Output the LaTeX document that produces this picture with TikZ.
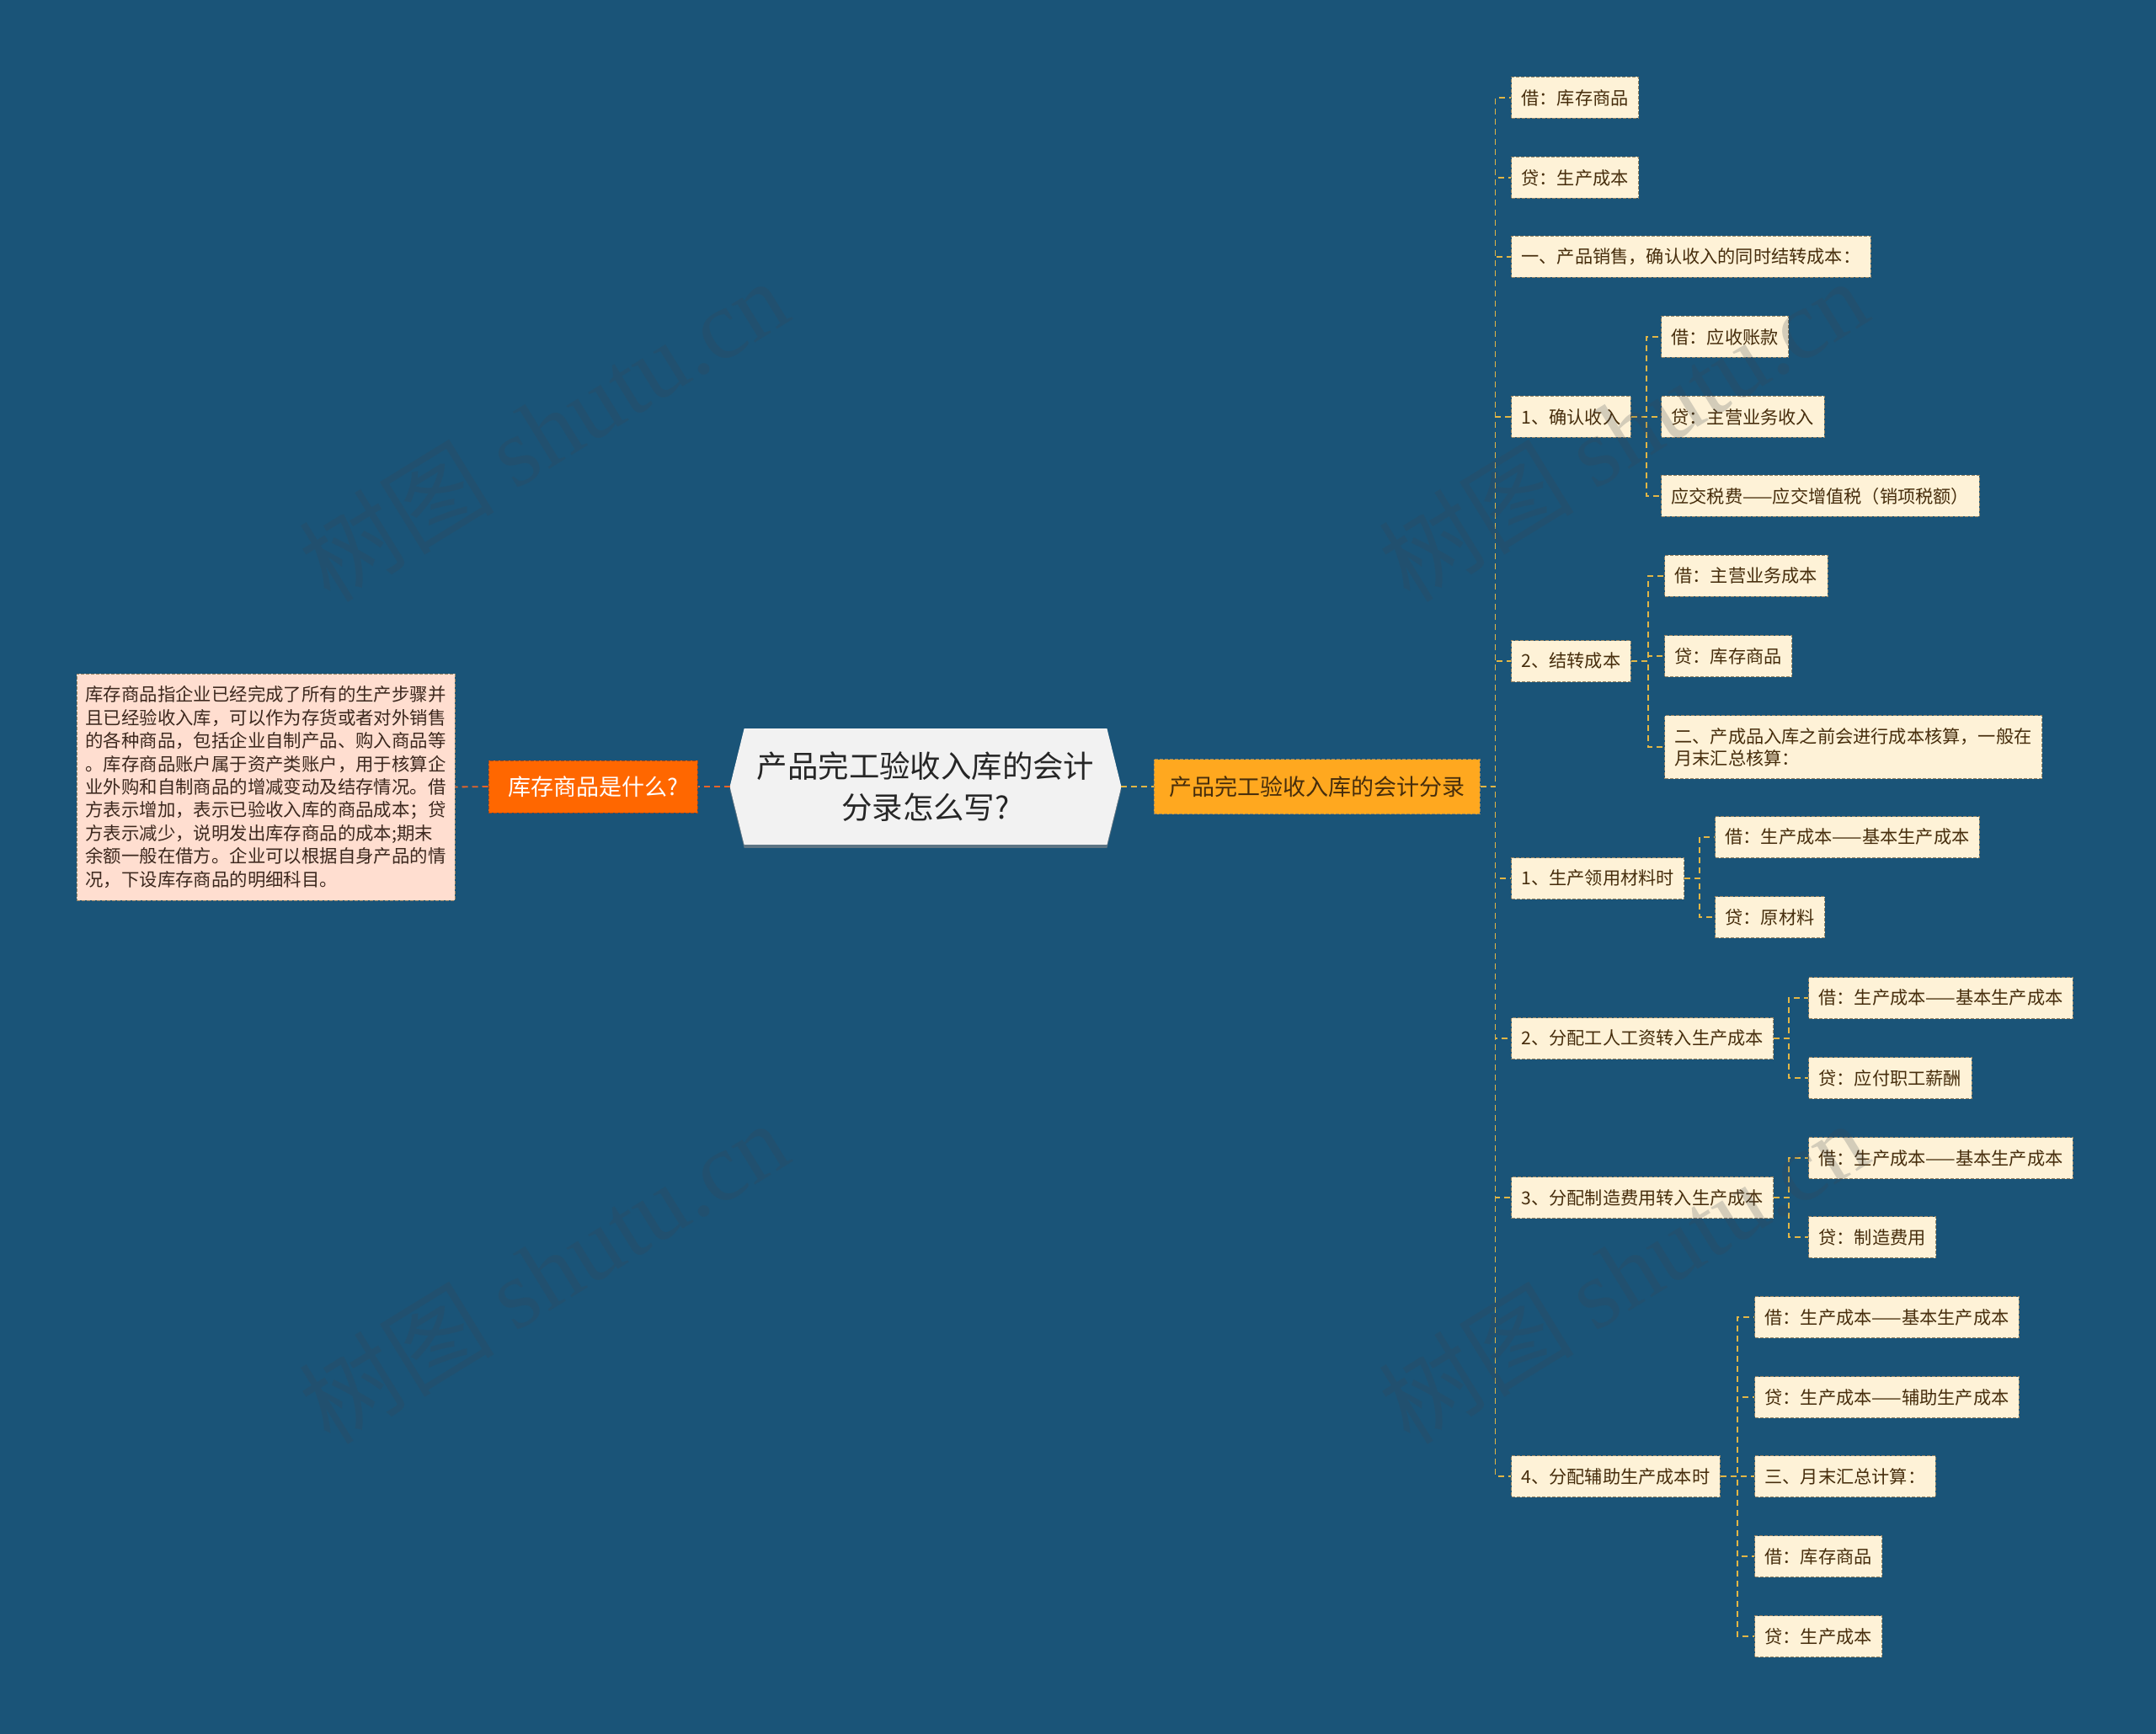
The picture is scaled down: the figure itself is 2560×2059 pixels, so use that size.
\documentclass[tikz,border=0pt]{standalone}
\usepackage{fontspec}
\setmainfont{Noto Sans CJK SC}
\newfontfamily\wmlatin{Liberation Serif}
\usetikzlibrary{backgrounds}
\definecolor{bgcol}{RGB}{26,84,120}
\definecolor{leaffill}{RGB}{254,242,215}
\definecolor{leafbd}{RGB}{150,132,100}
\definecolor{leaftext}{RGB}{70,45,12}
\definecolor{conncol}{RGB}{226,182,70}
\definecolor{lconncol}{RGB}{232,100,40}
\definecolor{redfill}{RGB}{255,103,0}
\definecolor{yelfill}{RGB}{255,168,31}
\definecolor{parafill}{RGB}{255,222,208}
\definecolor{paratext}{RGB}{60,40,30}
\definecolor{cenfill}{RGB}{242,242,242}
\definecolor{wmcol}{RGB}{60,70,80}
\tikzset{
  leaf/.style={draw=leafbd, dash pattern=on 2pt off 1pt, line width=0.5pt, fill=leaffill,
    text=leaftext, font=\fontsize{10.6}{13}\selectfont, inner xsep=6pt, inner ysep=0pt,
    minimum height=24.5pt, anchor=west, align=left},
  conn/.style={draw=conncol, dash pattern=on 3.5pt off 2.5pt, line width=0.9pt},
  lconn/.style={draw=lconncol, dash pattern=on 3.5pt off 2.5pt, line width=0.9pt},
  wm/.style={rotate=31.6, text=wmcol, opacity=0.22, font=\fontsize{58}{60}\selectfont}
}
\begin{document}
\begin{tikzpicture}[x=0.5pt,y=-0.5pt]
\useasboundingbox (0,0) rectangle (2560,2059);
\begin{scope}[on background layer]
\fill[bgcol] (0,0) rectangle (2560,2059);
\end{scope}

% centre
\node[text=black!85, font=\fontsize{18.2}{24.5}\selectfont, align=center,
  minimum width=232pt, minimum height=68.5pt, inner sep=0pt] (cen) at (1099,934)
  {产品完工验收入库的会计\\分录怎么写?};
\begin{scope}[on background layer]
\fill[black!45, opacity=0.6] ([xshift=8.5pt,yshift=-2pt]cen.north west) -- ([yshift=-2pt]cen.west) -- ([xshift=8.5pt,yshift=-2pt]cen.south west)
  -- ([xshift=-8.5pt,yshift=-2pt]cen.south east) -- ([yshift=-2pt]cen.east) -- ([xshift=-8.5pt,yshift=-2pt]cen.north east) -- cycle;
\fill[cenfill] ([xshift=8.5pt]cen.north west) -- (cen.west) -- ([xshift=8.5pt]cen.south west)
  -- ([xshift=-8.5pt]cen.south east) -- (cen.east) -- ([xshift=-8.5pt]cen.north east) -- cycle;
\end{scope}

% left side
\node[draw=lconncol!70!black, dash pattern=on 2pt off 1pt, line width=0.5pt, fill=redfill, text=white,
  font=\fontsize{13.5}{16}\selectfont, minimum width=124pt, minimum height=31pt, inner sep=0pt] (q) at (704,934) {库存商品是什么?};
\node[draw=leafbd, dash pattern=on 2pt off 1pt, line width=0.5pt, fill=parafill, text=paratext,
  font=\fontsize{10.7}{13.7}\selectfont, align=left, minimum width=224.5pt, minimum height=134.5pt, inner sep=0pt] (para) at (315.5,934.5)
  {库存商品指企业已经完成了所有的生产步骤并\\
   且已经验收入库，可以作为存货或者对外销售\\
   的各种商品，包括企业自制产品、购入商品等\\
   。库存商品账户属于资产类账户，用于核算企\\
   业外购和自制商品的增减变动及结存情况。借\\
   方表示增加，表示已验收入库的商品成本；贷\\
   方表示减少，说明发出库存商品的成本;期末\\
   余额一般在借方。企业可以根据自身产品的情\\
   况，下设库存商品的明细科目。};
\draw[lconn] (cen.west) -- (q.east);
\draw[lconn] (q.west) -- (para.east);

% right main
\node[draw=leafbd, dash pattern=on 2pt off 1pt, line width=0.5pt, fill=yelfill, text=leaftext,
  font=\fontsize{13.5}{16}\selectfont, minimum width=193.5pt, minimum height=32.5pt, inner sep=0pt] (r) at (1563.5,934) {产品完工验收入库的会计分录};
\draw[conn] (cen.east) -- (r.west);

\node[leaf] (r1) at (1794,116) {借：库存商品};
\node[leaf] (r2) at (1794,211) {贷：生产成本};
\node[leaf] (r3) at (1794,305) {一、产品销售，确认收入的同时结转成本：};
\node[leaf] (r4) at (1794,495) {1、确认收入};
\node[leaf] (r4a) at (1972,400) {借：应收账款};
\node[leaf] (r4b) at (1972,495) {贷：主营业务收入};
\node[leaf] (r4c) at (1972,589) {应交税费——应交增值税（销项税额）};
\node[leaf] (r5) at (1794,785) {2、结转成本};
\node[leaf] (r5a) at (1976,684) {借：主营业务成本};
\node[leaf] (r5b) at (1976,779) {贷：库存商品};
\node[leaf, minimum height=37.5pt] (r5c) at (1976,887) {二、产成品入库之前会进行成本核算，一般在\\月末汇总核算：};
\node[leaf] (r6) at (1794,1043) {1、生产领用材料时};
\node[leaf] (r6a) at (2036,994) {借：生产成本——基本生产成本};
\node[leaf] (r6b) at (2036,1089) {贷：原材料};
\node[leaf] (r7) at (1794,1233) {2、分配工人工资转入生产成本};
\node[leaf] (r7a) at (2147,1185) {借：生产成本——基本生产成本};
\node[leaf] (r7b) at (2147,1280) {贷：应付职工薪酬};
\node[leaf] (r8) at (1794,1422) {3、分配制造费用转入生产成本};
\node[leaf] (r8a) at (2147,1375) {借：生产成本——基本生产成本};
\node[leaf] (r8b) at (2147,1469) {贷：制造费用};
\node[leaf] (r9) at (1794,1753) {4、分配辅助生产成本时};
\node[leaf] (r9a) at (2083,1564) {借：生产成本——基本生产成本};
\node[leaf] (r9b) at (2083,1659) {贷：生产成本——辅助生产成本};
\node[leaf] (r9c) at (2083,1753) {三、月末汇总计算：};
\node[leaf] (r9d) at (2083,1848) {借：库存商品};
\node[leaf] (r9e) at (2083,1943) {贷：生产成本};

\foreach \c in {r1,r2,r3,r4,r5,r6,r7,r8,r9}
  \draw[conn] (r.east) -- ++(18,0) |- (\c.west);
\foreach \c in {r4a,r4b,r4c} \draw[conn] (r4.east) -- ++(18,0) |- (\c.west);
\foreach \c in {r5a,r5b,r5c} \draw[conn] (r5.east) -- ++(20,0) |- (\c.west);
\foreach \c in {r6a,r6b} \draw[conn] (r6.east) -- ++(18,0) |- (\c.west);
\foreach \c in {r7a,r7b} \draw[conn] (r7.east) -- ++(18,0) |- (\c.west);
\foreach \c in {r8a,r8b} \draw[conn] (r8.east) -- ++(18,0) |- (\c.west);
\foreach \c in {r9a,r9b,r9c,r9d,r9e} \draw[conn] (r9.east) -- ++(20,0) |- (\c.west);

% watermarks
\node[wm] (wm1) at (645,510) {树图 {\wmlatin shutu.cn}};
\node[wm] (wm2) at (1927,510) {树图 {\wmlatin shutu.cn}};
\node[wm] (wm3) at (645,1510) {树图 {\wmlatin shutu.cn}};
\node[wm] (wm4) at (1927,1510) {树图 {\wmlatin shutu.cn}};
\end{tikzpicture}
\end{document}
